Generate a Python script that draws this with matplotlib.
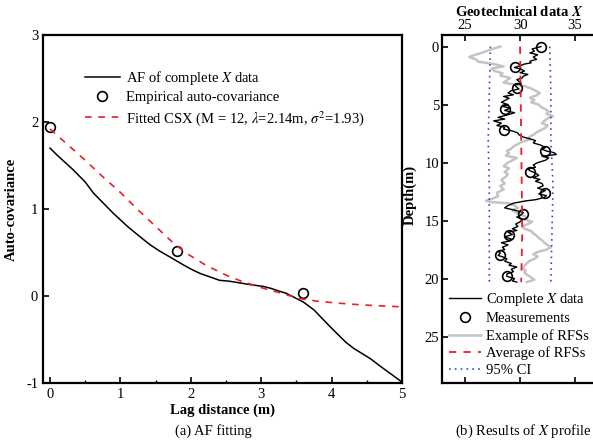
import numpy as np
import matplotlib
matplotlib.use("Agg")
import matplotlib.pyplot as plt

plt.rcParams['font.family'] = ['Liberation Serif', 'DejaVu Serif']
plt.rcParams['mathtext.fontset'] = 'stix'
plt.rcParams['font.size'] = 10.5

# (a) auto-covariance fitting
lag_af = [0.0, 0.1, 0.33, 0.5, 0.62, 0.9, 1.1, 1.28, 1.42, 1.55, 1.7, 1.89, 2.0, 2.13, 2.27, 2.41,
          2.55, 2.7, 2.85, 3.03, 3.13, 3.24, 3.36, 3.48, 3.6, 3.75, 3.88, 4.0, 4.1, 4.2, 4.31,
          4.45, 4.55, 4.73, 4.85, 5.0]
cov_af = [1.70, 1.62, 1.45, 1.31, 1.18, 0.95, 0.80, 0.68, 0.59, 0.52, 0.45, 0.36, 0.31, 0.26, 0.22, 0.18,
          0.17, 0.15, 0.13, 0.11, 0.09, 0.06, 0.03, -0.02, -0.07, -0.16, -0.27, -0.37, -0.45, -0.53, -0.60,
          -0.67, -0.72, -0.83, -0.90, -0.99]
lag_emp = [0.0, 1.8, 3.6]
cov_emp = [1.94, 0.52, 0.03]
lag_csx = [0.0, 0.25, 0.5, 0.75, 1.0, 1.25, 1.5, 1.75, 1.94, 2.2, 2.5, 2.75, 3.03, 3.25, 3.55,
           3.8, 4.07, 4.3, 4.6, 4.88, 5.0]
cov_csx = [1.92, 1.74, 1.56, 1.37, 1.19, 0.99, 0.80, 0.61, 0.49, 0.36, 0.24, 0.16, 0.09, 0.04, -0.03,
           -0.06, -0.08, -0.095, -0.11, -0.12, -0.125]

# (b) X profile
depth_x = [0.0, 0.2, 0.4, 0.55, 0.7, 0.9, 1.1, 1.25, 1.4, 1.5, 1.65, 1.8, 1.95, 2.1, 2.25, 2.4, 2.55,
           2.7, 2.85, 3.0, 3.15, 3.3, 3.5, 3.65, 3.8, 4.0, 4.15, 4.3, 4.45, 4.6, 4.8, 5.0, 5.15, 5.3,
           5.5, 5.7, 5.9, 6.1, 6.25, 6.4, 6.6, 6.8, 6.95, 7.1, 7.3, 7.45, 7.6, 7.8, 7.95, 8.1, 8.3,
           8.5, 8.7, 8.85, 9.0, 9.15, 9.3, 9.45, 9.6, 9.8, 10.0, 10.2, 10.4, 10.55, 10.7, 10.9, 11.1,
           11.3, 11.45, 11.6, 11.8, 12.0, 12.2, 12.4, 12.55, 12.7, 12.85, 13.0, 13.2, 13.3, 13.5,
           13.7, 13.9, 14.1, 14.3, 14.5, 14.7, 14.9, 15.1, 15.3, 15.5, 15.7, 15.85, 16.0, 16.2, 16.4,
           16.6, 16.75, 16.9, 17.1, 17.3, 17.5, 17.65, 17.8, 18.0, 18.15, 18.3, 18.5, 18.7, 18.85,
           19.0, 19.2, 19.4, 19.6, 19.8, 20.0, 20.2, 20.3]
x_data = [31.9, 31.1, 31.3, 30.9, 31.6, 31.2, 31.5, 30.9, 31.0, 30.4, 30.0, 29.5, 30.1, 30.4, 30.0, 30.7, 30.3,
          30.2, 29.7, 29.9, 30.1, 29.5, 29.7, 29.9, 29.2, 28.9, 29.4, 28.5, 29.0, 28.7, 28.3, 28.9, 28.4, 29.1,
          28.6, 29.5, 28.8, 28.0, 28.6, 27.6, 28.3, 27.9, 28.6, 28.5, 29.4, 29.8, 29.9, 30.3, 30.9, 31.4, 31.2,
          31.9, 32.3, 32.0, 32.4, 33.1, 33.3, 32.0, 32.6, 32.3, 31.6, 31.2, 31.4, 30.7, 30.9, 31.4, 31.7,
          31.2, 31.8, 31.4, 32.0, 32.1, 31.6, 32.3, 32.0, 31.7, 32.4, 32.2, 31.4, 30.5, 29.4,
          28.9, 28.6, 29.5, 30.3, 30.1, 29.7, 30.2, 30.0, 29.6, 29.8, 29.3, 29.7, 28.9, 29.3, 28.6,
          29.2, 29.1, 28.3, 28.9, 28.4, 28.6, 28.0, 28.2, 28.0, 28.5, 28.8, 28.6, 29.2, 29.0,
          29.7, 29.2, 29.4, 28.8, 28.8, 29.5, 29.3, 29.7]
depth_meas = [0.0, 1.8, 3.6, 5.4, 7.2, 9.0, 10.8, 12.6, 14.4, 16.2, 18.0, 19.8]
x_meas = [31.9, 29.5, 29.7, 28.6, 28.5, 32.3, 30.9, 32.3, 30.3, 29.0, 28.2, 28.8]
depth_rfs = [0.0, 0.2, 0.4, 0.6, 0.8, 0.9, 1.1, 1.3, 1.5, 1.7, 1.9, 2.1, 2.3, 2.5, 2.7, 2.9, 3.1, 3.3,
             3.4, 3.6, 3.8, 4.0, 4.2, 4.4, 4.6, 4.8, 5.0, 5.2, 5.4, 5.6, 5.8, 6.0, 6.2, 6.4, 6.6, 6.8,
             7.0, 7.2, 7.4, 7.6, 7.8, 8.0, 8.2, 8.4, 8.6, 8.8, 9.0, 9.2, 9.4, 9.6, 9.8, 10.0, 10.3,
             10.5, 10.8, 11.0, 11.2, 11.5, 11.8, 12.0, 12.3, 12.6, 12.9, 13.1, 13.3, 13.4, 13.5, 13.7,
             13.9, 14.1, 14.3, 14.5, 14.7, 14.9, 15.1, 15.3, 15.5, 15.7, 15.9, 16.1, 16.3, 16.5, 16.7,
             16.9, 17.1, 17.3, 17.5, 17.7, 17.9, 18.1, 18.3, 18.5, 18.7, 18.9, 19.1, 19.3, 19.5, 19.7,
             19.9, 20.1, 20.3]
x_rfs = [28.2, 27.5, 26.9, 26.3, 25.6, 25.4, 26.0, 26.2, 27.6, 28.5, 27.4, 27.7, 28.4, 28.2, 29.1, 28.8, 28.5, 29.6,
         30.4, 31.0, 31.4, 31.8, 31.5, 30.9, 31.3, 31.0, 31.7, 31.9, 32.3, 32.6, 32.4, 33.0, 32.5, 32.2, 32.0, 32.5,
         32.3, 31.9, 31.5, 31.2, 30.8, 30.9, 30.2, 29.8, 29.4, 29.2, 28.8, 29.0, 28.7, 29.7, 29.3, 28.9, 28.5,
         29.0, 28.6, 28.9, 28.7, 28.3, 28.6, 28.2, 28.5, 27.9, 28.0, 27.5, 26.9, 27.3, 29.0, 29.5,
         29.8, 29.3, 29.6, 30.1, 30.6, 30.4, 31.1, 30.7, 30.2, 30.4, 31.0, 31.2, 31.5, 31.7, 32.0,
         32.2, 32.5, 32.8, 32.4, 31.6, 31.2, 31.6, 31.3, 30.8, 30.6, 30.4, 30.2, 30.5, 30.4, 30.7,
         31.0, 31.3, 30.6]
depth_stat = [0.0, 4.0, 8.0, 12.0, 16.0, 20.3]
x_avg = [30.0, 30.05, 30.1, 30.15, 30.2, 30.1]
x_low = [27.3, 27.2, 27.1, 27.2, 27.2, 27.2]
x_up = [32.7, 32.8, 32.8, 33.0, 32.9, 32.8]

fig = plt.figure(figsize=(5.93, 4.41), dpi=100)

ax1 = fig.add_axes([0.0725, 0.1315, 0.6054, 0.7891])
ax1.plot(lag_af, cov_af, color='black', lw=1.1, label='AF of complete $X$ data')
ax1.plot(lag_emp, cov_emp, 'o', mfc='none', mec='black', ms=7, mew=1.2, label='Empirical auto-covariance')
ax1.plot(lag_csx, cov_csx, '--', color='#ee1c25', lw=1.2, dashes=(4, 4),
         label=r'Fitted CSX (M = 12, $\lambda$=2.14m, $\sigma^2$=1.93)')
ax1.set_xlim(-0.1, 5.0)
ax1.set_ylim(-1, 3)
ax1.set_xticks([0, 1, 2, 3, 4, 5])
ax1.set_xticks(np.arange(0.5, 5, 1.0), minor=True)
ax1.set_yticks([-1, 0, 1, 2, 3])
ax1.set_yticklabels(['-1', '0', '1', '2', '3'])
ax1.tick_params(direction='in', length=4, width=1.2)
ax1.tick_params(which='minor', direction='in', length=2.5, width=1.0)
ax1.set_xlabel('Lag distance (m)', fontweight='bold', labelpad=2)
ax1.set_ylabel('Auto-covariance', fontweight='bold', labelpad=6)
for s in ax1.spines.values():
    s.set_linewidth(1.6)
ax1.legend(loc='upper left', bbox_to_anchor=(0.1, 0.92), frameon=False,
           handlelength=2.4, handletextpad=0.4, labelspacing=0.3, borderaxespad=0)

ax2 = fig.add_axes([0.7454, 0.1315, 0.2614, 0.7891])
ax2.plot(x_rfs, depth_rfs, color='#c4c4c4', lw=1.8, label='Example of RFSs')
ax2.plot(x_data, depth_x, color='black', lw=1.0, label='Complete $X$ data')
ax2.plot(x_meas, depth_meas, 'o', mfc='none', mec='black', ms=7, mew=1.2, label='Measurements')
ax2.plot(x_avg, depth_stat, '--', color='#ee1c25', lw=1.3, dashes=(4, 4), label='Average of RFSs')
ax2.plot(x_low, depth_stat, color='#2a4fc0', lw=1.2, linestyle=(0, (1, 2.5)), label='95% CI')
ax2.plot(x_up, depth_stat, color='#2a4fc0', lw=1.2, linestyle=(0, (1, 2.5)))
ax2.set_xlim(22.9, 37.0)
ax2.set_ylim(29, -1)
ax2.set_xticks([25, 30, 35])
ax2.set_yticks([0, 5, 10, 15, 20, 25])
ax2.xaxis.tick_top()
ax2.xaxis.set_label_position('top')
ax2.tick_params(direction='in', length=4, width=1.2, top=True, bottom=True, pad=2)
ax2.set_xlabel('Geotechnical data $\\boldsymbol{X}$', fontweight='bold', labelpad=2)
ax2.set_ylabel('Depth(m)', fontweight='bold', labelpad=4)
ax2.yaxis.set_label_coords(-0.16, 0.54)
for s in ax2.spines.values():
    s.set_linewidth(1.6)
ax2.spines['right'].set_visible(False)
h, l = ax2.get_legend_handles_labels()
order = [1, 2, 0, 3, 4]
ax2.legend([h[i] for i in order], [l[i] for i in order], loc='upper left', bbox_to_anchor=(0.01, 0.28),
           frameon=False, handlelength=2.2, handletextpad=0.3, labelspacing=0.25, borderaxespad=0)

fig.text(0.36, 0.0227, '(a) AF fitting', ha='center', va='center')
fig.text(0.767, 0.0227, '(b) Results of $X$ profile', ha='left', va='center')

fig.savefig('out.png', dpi=100)
